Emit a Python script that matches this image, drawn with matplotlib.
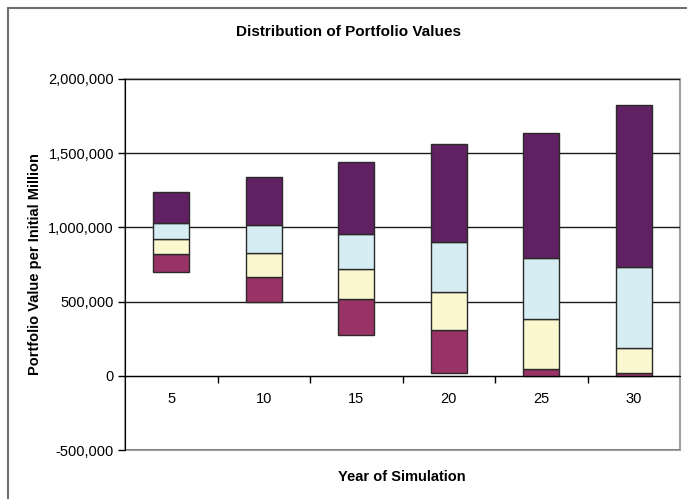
import matplotlib
matplotlib.use("Agg")
import matplotlib.pyplot as plt
from matplotlib.patches import Rectangle
from matplotlib.ticker import FuncFormatter, FixedLocator
import numpy as np

plt.rcParams['font.family'] = ['Liberation Sans', 'DejaVu Sans']

# data (portfolio value per initial million)
years = ['5', '10', '15', '20', '25', '30']
bottom = [700000, 497000, 276000, 20000, 0, 0]
level1 = [822000, 667000, 519000, 308000, 49000, 20000]
level2 = [923000, 829000, 721000, 564000, 382000, 187000]
level3 = [1029000, 1013000, 955000, 901000, 797000, 730000]
top = [1236000, 1341000, 1438000, 1562000, 1636000, 1822000]

seg_colors = ['#993366', '#FBF8D0', '#D5EDF3', '#612062']

fig = plt.figure(figsize=(6.87, 4.99), dpi=100)
ax = fig.add_axes([125 / 687, 1 - 450 / 499, 555 / 687, 371 / 499])

x = np.arange(len(years))
levels = [bottom, level1, level2, level3, top]
for i in range(4):
    lo = np.array(levels[i])
    hi = np.array(levels[i + 1])
    ax.bar(x, hi - lo, bottom=lo, width=0.39, color=seg_colors[i],
           edgecolor='#2a2a2a', linewidth=1.0, zorder=3)

ax.set_xlim(-0.5, len(years) - 0.5)
ax.set_ylim(-500000, 2000000)
ax.set_yticks(np.arange(-500000, 2000001, 500000))
ax.yaxis.set_major_formatter(FuncFormatter(lambda v, p: f'{int(v):,}'))
ax.grid(axis='y', color='#1a1a1a', linewidth=1.0, zorder=1)

# x axis drawn at zero, ticks between categories
ax.spines['bottom'].set_position(('data', 0))
ax.spines['bottom'].set_color('black')
ax.spines['bottom'].set_zorder(4)
ax.spines['left'].set_color('black')
ax.spines['top'].set_visible(False)
ax.spines['right'].set_visible(False)
ax.add_patch(Rectangle((0, 0), 1, 1, transform=ax.transAxes, fill=False,
                       edgecolor='#a0a0a0', linewidth=1.5, zorder=0, clip_on=False))

ax.set_xticks(x)
ax.set_xticklabels(years)
ax.xaxis.set_minor_locator(FixedLocator(np.arange(0.5, len(years) - 1, 1.0)))
ax.tick_params(axis='x', which='major', length=0, pad=12, labelsize=10.5)
ax.tick_params(axis='x', which='minor', length=5, width=1, color='black', direction='out')
ax.tick_params(axis='y', length=5, width=1, color='black', labelsize=10.5, pad=3)

ax.set_ylabel('Portfolio Value per Initial Million', fontsize=10.5, fontweight='bold')
ax.yaxis.set_label_coords(-0.150, 0.5)
fig.text(402 / 687, 1 - 477 / 499, 'Year of Simulation', ha='center', va='center',
         fontsize=10.5, fontweight='bold')
fig.text(348 / 687, 1 - 32 / 499, 'Distribution of Portfolio Values', ha='center', va='center',
         fontsize=11, fontweight='bold')

# outer chart frame (runs off the right/bottom edge)
fig.patches.append(Rectangle((8 / 687, -0.1), 1.2, 1 - 8 / 499 + 0.1, transform=fig.transFigure,
                             fill=False, edgecolor='#6e6e6e', linewidth=1.5))

fig.savefig('out.png', dpi=100)
